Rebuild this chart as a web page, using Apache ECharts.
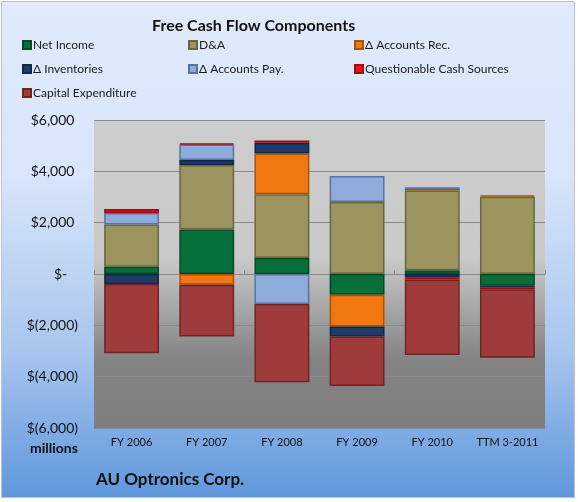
<!DOCTYPE html>
<html>
<head>
<meta charset="utf-8">
<script src="https://cdn.jsdelivr.net/npm/echarts@6/dist/echarts.min.js"></script>
<style>
html,body{margin:0;padding:0;width:578px;height:502px;overflow:hidden;background:#fff;}
#bg{position:absolute;left:1px;top:1px;width:572px;height:495px;border:1px solid #b9c3d2;
background:linear-gradient(to bottom,#e0eafb 0%,#d8e5fa 35%,#a9c6ee 70%,#5f97dc 100%);}
#chart{position:absolute;left:0;top:0;width:578px;height:502px;}
</style>
</head>
<body>
<div id="bg"></div>
<div id="chart"></div>
<script>
const categories = ['FY 2006','FY 2007','FY 2008','FY 2009','FY 2010','TTM 3-2011'];
const netIncome = [285, 1733, 626, -808, 150, -456];
const dna = [1640, 2515, 2477, 2803, 3100, 3011];
const accountsRec = [null, -417, 1590, -1238, 60, 50];
const inventories = [-390, 195, 418, -391, -130, -65];
const accountsPay = [455, 600, -1173, 1017, 70, null];
const questionable = [156, 50, 90, null, -80, -78];
const capex = [-2700, -2020, -3040, -1930, -2946, -2662];
const yTicks = [-6000, -4000, -2000, 0, 2000, 4000, 6000];

const FONT = 'Lato, "Open Sans", sans-serif';
const seriesDefs = [
  ['Net Income', netIncome, '#07703a', '#044a26'],
  ['D&A', dna, '#9c945e', '#6b6540'],
  ['Δ Accounts Rec.', accountsRec, '#f17811', '#a85208'],
  ['Δ Inventories', inventories, '#1f3c68', '#132846'],
  ['Δ Accounts Pay.', accountsPay, '#8eabdc', '#5a72a0'],
  ['Questionable Cash Sources', questionable, '#ec111a', '#a00a10'],
  ['Capital Expenditure', capex, '#9f3b3a', '#6c2626']
];

function fmt(v){
  if (v === 0) return '$-   ';
  const s = Math.abs(v).toLocaleString('en-US');
  return v < 0 ? '$(' + s + ')' : '$' + s + ' ';
}

const chart = echarts.init(document.getElementById('chart'), null, {renderer:'canvas'});
const legendCommon = {
  orient:'vertical', icon:'rect', itemWidth:8, itemHeight:8, itemGap:12,
  textStyle:{fontFamily:FONT, fontSize:12, color:'#1a1a1a', padding:[0,0,0,-3]},
  selectedMode:false, padding:0
};
chart.setOption({
  backgroundColor:'transparent',
  animation:false,
  title:{text:'Free Cash Flow Components', left:147, top:13,
    textStyle:{fontFamily:FONT, fontSize:16, fontWeight:'bold', color:'#111'}},
  legend:[
    Object.assign({}, legendCommon, {left:22, top:39, data:['Net Income','Δ Inventories','Capital Expenditure']}),
    Object.assign({}, legendCommon, {left:188, top:39, data:['D&A','Δ Accounts Pay.']}),
    Object.assign({}, legendCommon, {left:354, top:39, data:['Δ Accounts Rec.','Questionable Cash Sources']})
  ],
  graphic:[
    {type:'text', left:30, top:441, style:{text:'millions', fontFamily:FONT, fontSize:14, fontWeight:'bold', fill:'#111'}},
    {type:'text', left:96, top:471, style:{text:'AU Optronics Corp.', fontFamily:FONT, fontSize:17, fontWeight:'bold', fill:'#111'}}
  ],
  grid:{left:94, right:33, top:120, bottom:74, show:true, borderWidth:0,
    backgroundColor:new echarts.graphic.LinearGradient(0,0,0,1,[
      {offset:0,color:'#cdcdcd'},{offset:0.45,color:'#c9c9c9'},{offset:0.78,color:'#838383'},{offset:1,color:'#7f7f7f'}])},
  xAxis:[
    {type:'category', data:categories, position:'bottom',
      axisLine:{onZero:true, lineStyle:{color:'#8a8a8a'}},
      axisTick:{show:true, inside:true, length:4, lineStyle:{color:'#8a8a8a'}},
      axisLabel:{show:false}},
    {type:'category', data:categories, position:'bottom', axisLine:{show:false, onZero:false},
      axisTick:{show:false},
      axisLabel:{fontFamily:FONT, fontSize:11, color:'#111', margin:9, interval:0}}
  ],
  yAxis:{type:'value', min:-6000, max:6000, interval:2000,
    axisLine:{show:false}, axisTick:{show:false},
    axisLabel:{fontFamily:FONT, fontSize:14, color:'#111', margin:16, formatter:fmt},
    splitLine:{lineStyle:{color:'#8a8a8a', width:1}}},
  series: seriesDefs.map(([name, data, color, border]) => ({
    name, type:'bar', stack:'fcf', data, barCategoryGap:'27%',
    itemStyle:{color, borderColor:border, borderWidth:1.5}
  }))
});
</script>
</body>
</html>
